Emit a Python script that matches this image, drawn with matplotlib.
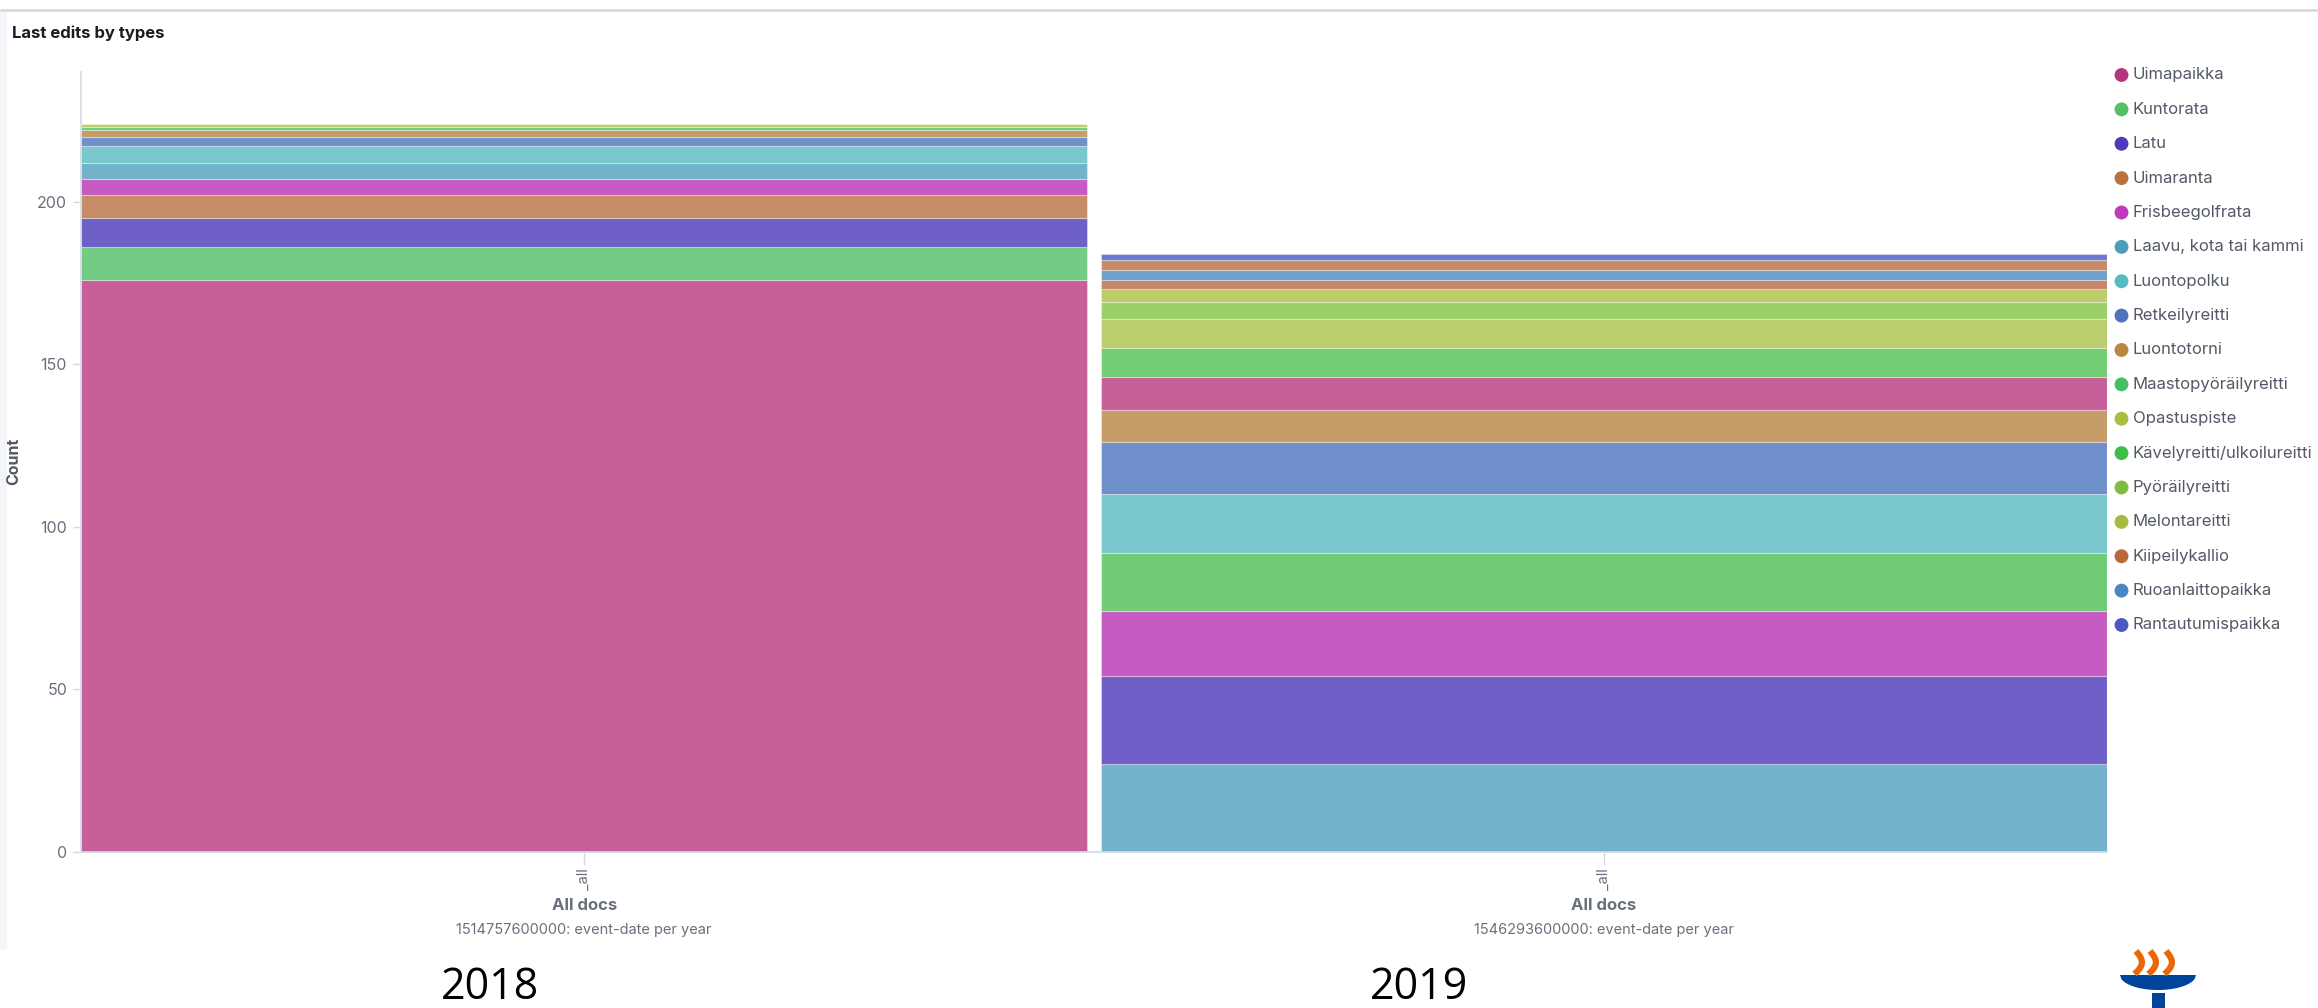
import numpy as np
import matplotlib
matplotlib.use("Agg")
import matplotlib.pyplot as plt
import matplotlib.transforms as mtransforms
from matplotlib.patches import Polygon, Rectangle

# ---------------- data ----------------
series_names = [
    "Uimapaikka", "Kuntorata", "Latu", "Uimaranta", "Frisbeegolfrata",
    "Laavu, kota tai kammi", "Luontopolku", "Retkeilyreitti", "Luontotorni",
    "Maastopyöräilyreitti", "Opastuspiste", "Kävelyreitti/ulkoilureitti",
    "Pyöräilyreitti", "Melontareitti", "Kiipeilykallio", "Ruoanlaittopaikka",
    "Rantautumispaikka",
]
counts_2018 = [176, 10, 9, 7, 5, 5, 5, 3, 2, 1, 1, 0, 0, 0, 0, 0, 0]
counts_2019 = [10, 0, 27, 3, 20, 27, 18, 16, 10, 18, 9, 9, 5, 4, 3, 3, 2]

# stacking order (bottom -> top) inside each bucket
stack_order_2018 = [
    "Uimapaikka", "Kuntorata", "Latu", "Uimaranta", "Frisbeegolfrata",
    "Laavu, kota tai kammi", "Luontopolku", "Retkeilyreitti", "Luontotorni",
    "Maastopyöräilyreitti", "Opastuspiste",
]
stack_order_2019 = [
    "Laavu, kota tai kammi", "Latu", "Frisbeegolfrata", "Maastopyöräilyreitti",
    "Luontopolku", "Retkeilyreitti", "Luontotorni", "Uimapaikka",
    "Kävelyreitti/ulkoilureitti", "Opastuspiste", "Pyöräilyreitti",
    "Melontareitti", "Kiipeilykallio", "Ruoanlaittopaikka", "Uimaranta",
    "Rantautumispaikka",
]

bucket_keys = [1514757600000, 1546293600000]
bucket_tick_labels = ["_all", "_all"]
year_labels = ["2018", "2019"]
y_ticks = [0, 50, 100, 150, 200]

# colours (bar fill, legend dot)
bar_colors = [
    "#C76099", "#72CC84", "#6E60C6", "#C68C68", "#C65BC3", "#72B2CA",
    "#79C8CB", "#7090CB", "#C69D68", "#72CC76", "#BCCF6D", "#73CD75",
    "#9CCF6A", "#BCCC6A", "#C7856A", "#70A0CC", "#6F79CC",
]
dot_colors = [
    "#B5367E", "#54C065", "#4B3BBE", "#B8733E", "#BE3AB8", "#4E9DB8",
    "#54BDC0", "#4C72C0", "#B8863E", "#45BE66", "#A8C040", "#3DBE45",
    "#7DBE40", "#A8B840", "#B86A3E", "#4C86C0", "#4C58C0",
]

# ---------------- figure ----------------
W, H = 2318, 1008
fig = plt.figure(figsize=(W / 100, H / 100), dpi=100)
fig.patch.set_facecolor("white")
FONT = ["Inter", "DejaVu Sans"]

# overlay axes in pixel coordinates for page furniture
ov = fig.add_axes([0, 0, 1, 1], zorder=0)
ov.set_xlim(0, W)
ov.set_ylim(H, 0)
ov.axis("off")

# panel frame cues
ov.plot([0, W], [10, 10], color="#D3DAE6", lw=2, solid_capstyle="butt")
ov.add_patch(Rectangle((0, 11), 7, 938, color="#F4F5F8", lw=0))

ov.text(12, 33, "Last edits by types", fontsize=12, fontweight="bold",
        color="#1A1C21", va="center", ha="left", family=FONT)

# main axes
y0_px, y_top = 851.6, 240
px_per_unit = 3.25
ax_h = y_top * px_per_unit
ax = fig.add_axes([81 / W, (H - y0_px) / H, (2107 - 81) / W, ax_h / H], zorder=1)
ax.patch.set_alpha(0)
bar_w = 0.987
ax.set_xlim(-bar_w / 2, 1 + bar_w / 2)
ax.set_ylim(0, y_top)

color_of = dict(zip(series_names, bar_colors))
vals = [dict(zip(series_names, counts_2018)), dict(zip(series_names, counts_2019))]
orders = [stack_order_2018, stack_order_2019]
for j in range(2):
    bottom = 0
    for name in orders[j]:
        v = vals[j][name]
        if v <= 0:
            continue
        ax.bar(j, v, bottom=bottom, width=bar_w, color=color_of[name],
               edgecolor=(1, 1, 1, 0.35), linewidth=0.8)
        bottom += v

for s in ["top", "right"]:
    ax.spines[s].set_visible(False)
for s in ["left", "bottom"]:
    ax.spines[s].set_color("#D3DAE6")
    ax.spines[s].set_linewidth(1.2)

ax.set_yticks(y_ticks)
ax.set_yticklabels([str(t) for t in y_ticks], fontsize=11.5, color="#69707D",
                   family=FONT)
ax.tick_params(axis="y", length=6, width=1, color="#D3DAE6", pad=4)
ax.set_xticks([0, 1])
ax.set_xticklabels(bucket_tick_labels, rotation=90, fontsize=10.5,
                   color="#69707D", family=FONT, va="top")
ax.tick_params(axis="x", length=9, width=1, color="#D3DAE6", pad=3)

ax.set_ylabel("Count", fontsize=11.5, fontweight="bold", color="#535966",
              family=FONT)
ax.yaxis.set_label_coords((21 - 81) / (2107 - 81), 0.5)

# x-axis captions under each bucket
bt = mtransforms.blended_transform_factory(ax.transData, ov.transData)
for j, key in enumerate(bucket_keys):
    ov.text(j, 905, "All docs", transform=bt, ha="center", va="center",
            fontsize=12, fontweight="bold", color="#69707D", family=FONT)
    ov.text(j, 930, f"{key}: event-date per year", transform=bt, ha="center",
            va="center", fontsize=10.5, color="#69707D", family=FONT)

# slide year labels
for xpx, lab in zip([490, 1419], year_labels):
    ov.text(xpx, 988, lab, ha="center", va="center", fontsize=31,
            color="black", family=["Open Sans", "DejaVu Sans"])

# legend
leg_y0, leg_dy = 75, (625 - 75) / (len(series_names) - 1)
for i, name in enumerate(series_names):
    y = leg_y0 + i * leg_dy
    ov.scatter([2121.5], [y], s=100, color=dot_colors[i], edgecolors="none")
    ov.text(2133, y, name, fontsize=12, color="#535966", va="center",
            ha="left", family=FONT)

# logo (torch)
cx = 2158
bx = np.linspace(-38, 38, 60)
by = 975 + 15 * np.sqrt(np.clip(1 - (bx / 38) ** 2, 0, 1))
bowl = np.column_stack([cx + bx, by])
ov.add_patch(Polygon(bowl, closed=True, color="#00449A", lw=0))
ov.add_patch(Rectangle((cx - 6.5, 993), 13, 15, color="#00449A", lw=0))
t = np.linspace(0, 1, 30)
for dx in [-22, -8, 8]:
    xs = cx + dx + 8 * np.sin(t * np.pi * 0.9) - 4 * t
    ys = 951 + 23 * t
    ov.plot(xs, ys, color="#EC6608", lw=4.5, solid_capstyle="butt")

fig.savefig("out.png", dpi=100, facecolor="white")
